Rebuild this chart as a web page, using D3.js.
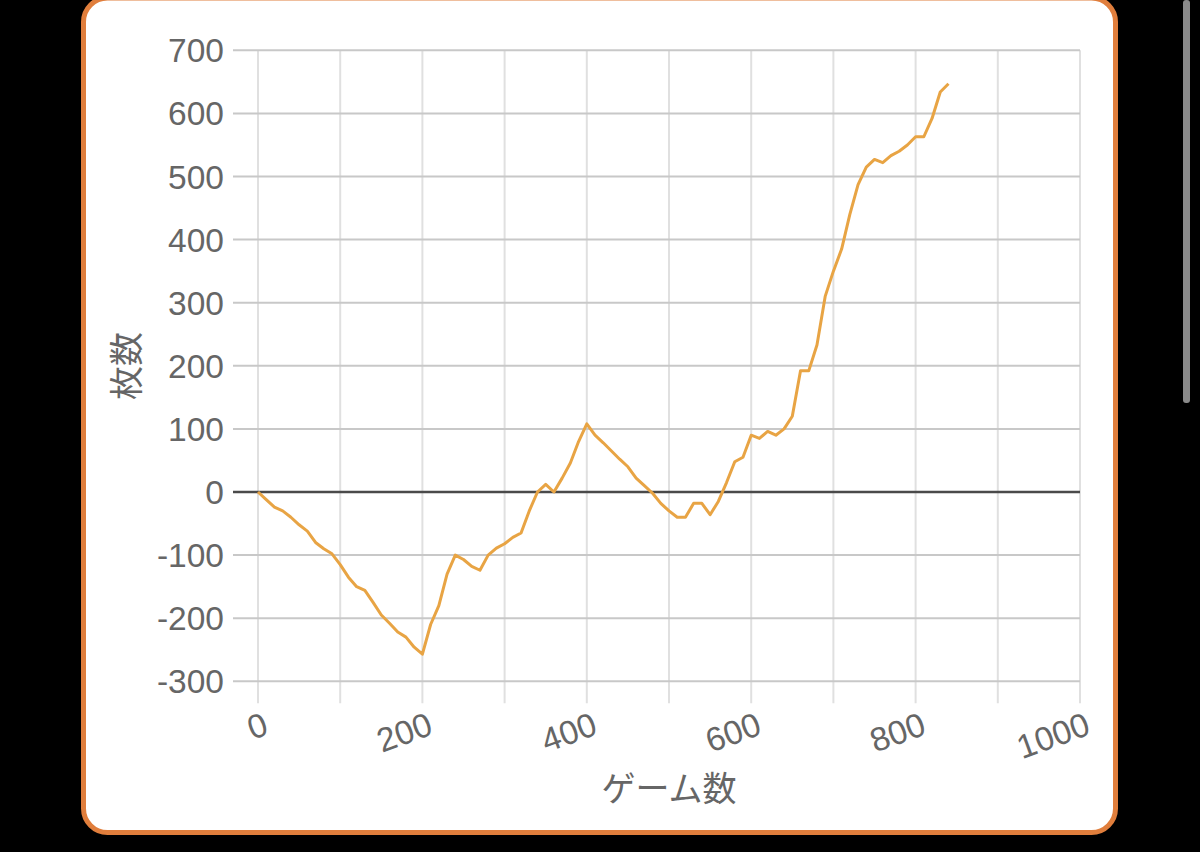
<!DOCTYPE html>
<html><head><meta charset="utf-8">
<script src="https://cdn.jsdelivr.net/npm/d3@7"></script>
<style>html,body{margin:0;padding:0;background:#000;overflow:hidden}</style>
</head><body>
<svg id="c" width="1200" height="852"></svg>
<script>
const games = [0,10,20,30,40,50,60,70,80,90,100,110,120,130,140,150,160,170,180,190,200,210,220,230,240,250,260,270,280,290,300,310,320,330,340,350,360,370,380,390,400,410,420,430,440,450,460,470,480,490,500,510,520,530,540,550,560,570,580,590,600,610,620,630,640,650,660,670,680,690,700,710,720,730,740,750,760,770,780,790,800,810,820,830,840];
const coins = [0,-12,-24,-30,-40,-52,-62,-80,-90,-98,-115,-135,-150,-156,-175,-195,-208,-222,-230,-246,-257,-210,-180,-130,-100,-107,-118,-124,-100,-89,-82,-72,-65,-30,0,12,0,22,46,80,108,90,78,65,52,40,22,10,-2,-18,-30,-40,-40,-18,-18,-36,-15,15,48,55,90,85,96,90,100,120,192,192,233,310,350,385,440,487,515,527,522,533,540,550,563,563,592,634,647];
const yTicks = [-300,-200,-100,0,100,200,300,400,500,600,700];
const xGrid = [0,100,200,300,400,500,600,700,800,900,1000];
const xLabels = [0,200,400,600,800,1000];
const xTitle = "ゲーム数";
const yTitle = "枚数";

const svg = d3.select("#c");
const font = "'Liberation Sans', Arial, 'Noto Sans CJK JP', sans-serif";
// scrollbar
svg.append("rect").attr("x",1183).attr("y",0).attr("width",7).attr("height",403).attr("rx",3).attr("fill","#8a8a8a");
// card
svg.append("rect").attr("x",83.5).attr("y",-2).attr("width",1032).attr("height",834.5).attr("rx",24)
  .attr("fill","#fff").attr("stroke","#E07E3C").attr("stroke-width",5);

const x = d3.scaleLinear().domain([0,1000]).range([258,1080]);
const y = d3.scaleLinear().domain([-300,700]).range([681.3,50.3]);

const g = svg.append("g");
// vertical grid + ticks
g.selectAll("line.vg").data(xGrid).join("line")
  .attr("x1",d=>x(d)).attr("x2",d=>x(d)).attr("y1",y(700)).attr("y2",y(-300)+22)
  .attr("stroke","#e0e0e0").attr("stroke-width",2);
// horizontal grid + ticks
g.selectAll("line.hg").data(yTicks).join("line")
  .attr("x1",x(0)-25).attr("x2",x(1000)).attr("y1",d=>y(d)).attr("y2",d=>y(d))
  .attr("stroke",d=>d===0?"#4a4a4a":"#c8c8c8").attr("stroke-width",d=>d===0?2.5:2);

// y tick labels
g.selectAll("text.yl").data(yTicks).join("text")
  .attr("x",224).attr("y",d=>y(d)).attr("dy","0.36em").attr("text-anchor","end")
  .attr("font-family",font).attr("font-size",33.5).attr("fill","#666").text(d=>d);
// x tick labels
g.selectAll("text.xl").data(xLabels).join("text")
  .attr("transform",d=>`translate(${x(d)+8},${y(-300)+41}) rotate(-20)`)
  .attr("text-anchor","end").attr("dy","0.36em")
  .attr("font-family",font).attr("font-size",33.5).attr("fill","#666").text(d=>d);

// titles
svg.append("text").attr("x",669).attr("y",801).attr("text-anchor","middle")
  .attr("font-family",font).attr("font-size",34).attr("fill","#666").text(xTitle);
svg.append("text").attr("transform","translate(139,366) rotate(-90)").attr("text-anchor","middle")
  .attr("font-family",font).attr("font-size",34).attr("fill","#666").text(yTitle);

// line
const data = games.map((gm,i)=>[gm,coins[i]]);
svg.append("path").datum(data)
  .attr("d",d3.line().x(d=>x(d[0])).y(d=>y(d[1])))
  .attr("fill","none").attr("stroke","#E8A444").attr("stroke-width",3).attr("stroke-linejoin","round");
</script>
</body></html>
